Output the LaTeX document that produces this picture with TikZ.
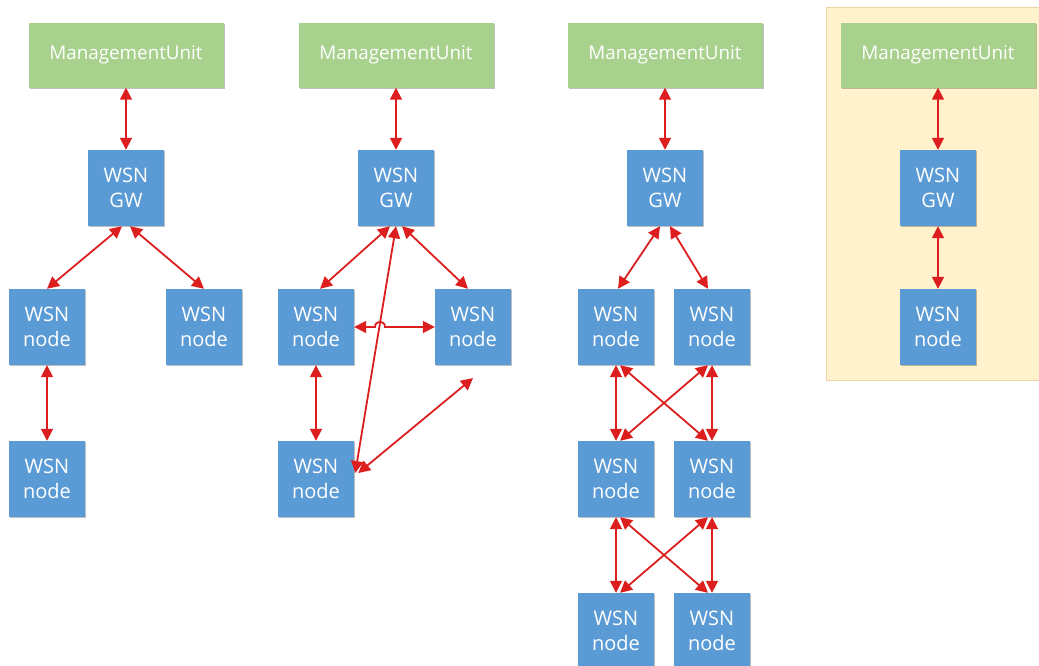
\documentclass[tikz,border=0pt]{standalone}
\usepackage{fontspec}
\setmainfont{Open Sans}
\usetikzlibrary{arrows.meta,shadows}
\definecolor{mugreen}{HTML}{A9D18E}
\definecolor{wsnblue}{HTML}{5B9BD5}
\definecolor{linkred}{HTML}{DC1E1E}
\definecolor{panelfill}{HTML}{FFF2CC}
\definecolor{paneledge}{HTML}{E8D7A4}
\begin{document}
\begin{tikzpicture}[x=1pt,y=-1pt,
  softshadow/.style={drop shadow={shadow xshift=1.2pt,shadow yshift=-1.2pt,opacity=.25,fill=black}},
  mubox/.style={fill=mugreen, minimum width=195pt, minimum height=65pt, inner sep=0pt,
    text=white, font=\fontsize{18.8}{22}\selectfont, softshadow},
  wsnbox/.style={fill=wsnblue, minimum width=76pt, minimum height=76pt, inner sep=0pt,
    text=white, align=center, font=\fontsize{20}{25}\selectfont, softshadow},
  link/.style={draw=linkred, line width=1.8pt,
    {Triangle[length=12pt,width=12pt]}-{Triangle[length=12pt,width=12pt]}}
]
\useasboundingbox (0,0) rectangle (1039,665);

% highlighted panel behind the fourth setup
\fill[panelfill, draw=paneledge, line width=0.8pt, softshadow] (826,7) rectangle (1060,380);

% ---- setup 1: tree ----
\node[mubox]  (mu1) at (126,55) {ManagementUnit};
\node[wsnbox] (gw1) at (126,188) {WSN\\GW};
\node[wsnbox] (n1l) at (47,327) {WSN\\node};
\node[wsnbox] (n1r) at (204,327) {WSN\\node};
\node[wsnbox] (n1b) at (47,479) {WSN\\node};
\draw[link] (mu1.south) -- (gw1.north);
\draw[link] ([xshift=-4pt]gw1.south) -- (n1l.north);
\draw[link] ([xshift=4pt]gw1.south) -- (n1r.north);
\draw[link] (n1l.south) -- (n1b.north);

% ---- setup 2: mesh ----
\node[mubox]  (mu2) at (396,55) {ManagementUnit};
\node[wsnbox] (gw2) at (396,188) {WSN\\GW};
\node[wsnbox] (n2l) at (316,327) {WSN\\node};
\node[wsnbox] (n2r) at (473,327) {WSN\\node};
\node[wsnbox] (n2b) at (316,479) {WSN\\node};
\coordinate (free2) at (473,378);
\draw[link] (mu2.south) -- (gw2.north);
\draw[link] ([xshift=-6pt]gw2.south) -- ([xshift=4pt]n2l.north);
\draw[link] ([xshift=6pt]gw2.south) -- ([xshift=-5pt]n2r.north);
\draw[link] (gw2.south) -- ([yshift=6pt,xshift=1pt]n2b.east);
\draw[link] ([yshift=6pt,xshift=4pt]n2b.east) -- (free2);
\draw[link] (n2l.east) -- (375,327) .. controls (375,320) and (385,320) .. (385,327) -- (n2r.west);
\draw[link] (n2l.south) -- (n2b.north);

% ---- setup 3: layered ----
\node[mubox]  (mu3) at (665,55) {ManagementUnit};
\node[wsnbox] (gw3) at (665,188) {WSN\\GW};
\node[wsnbox] (a1) at (616,327) {WSN\\node};
\node[wsnbox] (b1) at (712,327) {WSN\\node};
\node[wsnbox] (a2) at (616,479) {WSN\\node};
\node[wsnbox] (b2) at (712,479) {WSN\\node};
\node[wsnbox] (a3) at (616,631) {WSN\\node};
\node[wsnbox] (b3) at (712,631) {WSN\\node};
\draw[link] (mu3.south) -- (gw3.north);
\draw[link] ([xshift=-5pt]gw3.south) -- ([xshift=2pt]a1.north);
\draw[link] ([xshift=5pt]gw3.south) -- ([xshift=-4pt]b1.north);
\foreach \u/\v/\p/\q in {a1/b1/a2/b2, a2/b2/a3/b3}{
  \draw[link] (\u.south) -- (\p.north);
  \draw[link] (\v.south) -- (\q.north);
  \draw[link] ([xshift=4pt]\u.south) -- ([xshift=-4pt]\q.north);
  \draw[link] ([xshift=-4pt]\v.south) -- ([xshift=4pt]\p.north);
}

% ---- setup 4: single node ----
\node[mubox]  (mu4) at (938,55) {ManagementUnit};
\node[wsnbox] (gw4) at (938,188) {WSN\\GW};
\node[wsnbox] (n4)  at (938,327) {WSN\\node};
\draw[link] (mu4.south) -- (gw4.north);
\draw[link] (gw4.south) -- (n4.north);
\end{tikzpicture}
\end{document}
